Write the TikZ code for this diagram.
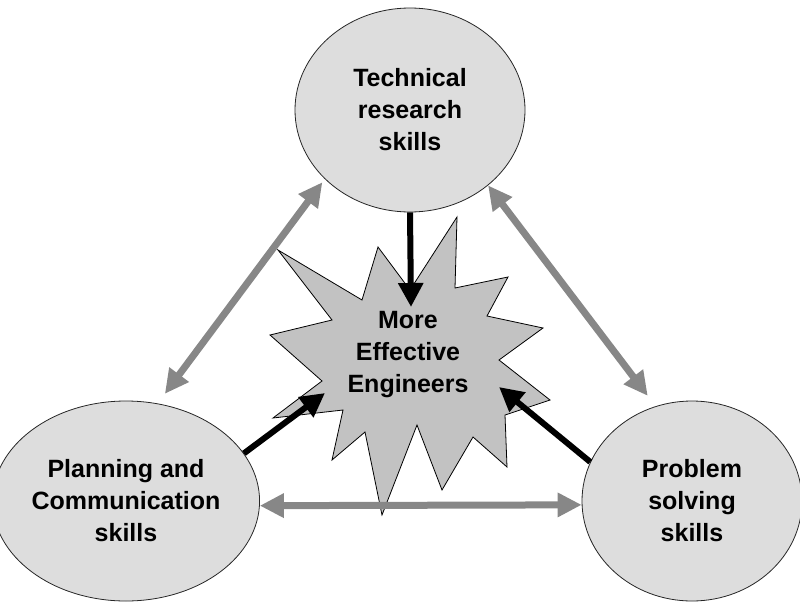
\documentclass[tikz,border=0pt]{standalone}
\usepackage{fontspec}
\setmainfont{Liberation Sans}
\usetikzlibrary{shapes.geometric,arrows.meta}

\definecolor{skillfill}{HTML}{DDDDDD}
\definecolor{burstfill}{HTML}{C2C2C2}
\definecolor{linkgray}{HTML}{878787}

\tikzset{
  skill/.style={ellipse, draw=black!85, line width=0.8pt, fill=skillfill,
    inner sep=0pt, align=center, font=\bfseries\fontsize{25}{32}\selectfont},
  feed/.style={line width=6pt, -{Triangle[length=24pt,width=24pt]}},
  link/.style={draw=linkgray, line width=7pt,
    {Triangle[length=24pt,width=23pt]}-{Triangle[length=24pt,width=23pt]}}
}

\begin{document}
\begin{tikzpicture}[x=1pt,y=-1pt]
  \useasboundingbox (0,0) rectangle (800,602);
  % Skill ellipses
  \node[skill, minimum width=230pt, minimum height=204pt] (tech) at (410,110)
    {Technical\\research\\skills};
  \node[skill, minimum width=224pt, minimum height=200pt] (plan) at (126,501)
    {Planning and\\Communication\\skills};
  \node[skill, minimum width=220pt, minimum height=200pt] (solve) at (692,501)
    {Problem\\solving\\skills};
  % Burst in the middle
  \draw[fill=burstfill, line width=0.8pt, line join=miter]
    (278,250) -- (362,300) -- (378,247) -- (410,290) -- (457,217) -- (455,288)
    -- (508,277) -- (487,316) -- (543,328) -- (499,360) -- (550,400)
    -- (505,415) -- (507,467) -- (473,437) -- (442,490) -- (417,425)
    -- (382,515) -- (365,432) -- (332,460) -- (343,410) -- (273,418)
    -- (322,381) -- (270,335) -- (332,320) -- cycle;
  \node[font=\bfseries\fontsize{25}{32}\selectfont, align=center] (eng)
    at (408,355) {More\\Effective\\Engineers};
  \coordinate (tipT) at (411,307);
  \coordinate (tipL) at (325,393);
  \coordinate (tipR) at (499,387);
  % Links between the skills
  \draw[link, shorten <=12pt, shorten >=4pt] (plan.72.8) -- (tech.219.5);
  \draw[link, shorten >=13pt] (tech.-44.3) -- (solve.111.3);
  \draw[link] (plan.-2) -- (solve.182);
  % Each skill feeds the burst
  \draw[feed] (tech.south) -- (tipT);
  \draw[feed] (plan.22.4) -- (tipL);
  \draw[feed] (solve.159.2) -- (tipR);
\end{tikzpicture}
\end{document}
